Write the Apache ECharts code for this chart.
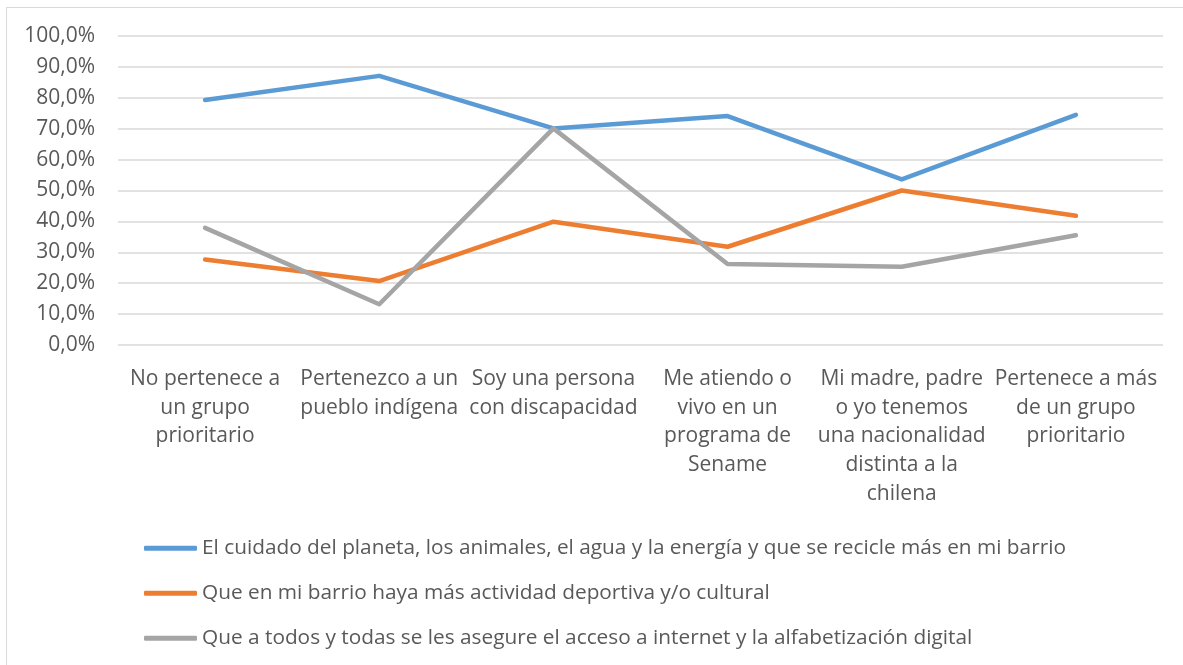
<!DOCTYPE html>
<html>
<head>
<meta charset="utf-8">
<script src="https://cdn.jsdelivr.net/npm/echarts@6/dist/echarts.min.js"></script>
<style>
    html, body { margin: 0; padding: 0; background: #fff; }
    #chart { width: 1183px; height: 665px; }
</style>
</head>
<body>
<div id="chart"></div>
<script>
    // categorias (eje x)
    var categorias = [
        'No pertenece a\nun grupo\nprioritario',
        'Pertenezco a un\npueblo indígena',
        'Soy una persona\ncon discapacidad',
        'Me atiendo o\nvivo en un\nprograma de\nSename',
        'Mi madre, padre\no yo tenemos\nuna nacionalidad\ndistinta a la\nchilena',
        'Pertenece a más\nde un grupo\nprioritario'
    ];

    var nombres = [
        'El cuidado del planeta, los animales, el agua y la energía y que se recicle más en mi barrio',
        'Que en mi barrio haya más actividad deportiva y/o cultural',
        'Que a todos y todas se les asegure el acceso a internet y la alfabetización digital'
    ];

    // valores en %
    var planeta = [79.3, 87.1, 70.1, 74.1, 53.6, 74.5];
    var deporte = [27.7, 20.7, 39.9, 31.8, 50.0, 41.8];
    var internet = [37.9, 13.2, 70.1, 26.2, 25.3, 35.5];

    var colores = ['#5B9BD5', '#ED7D31', '#A5A5A5'];
    var fuente = '"Open Sans", sans-serif';

    var chart = echarts.init(document.getElementById('chart'));

    function serie(nombre, datos, color) {
        return {
            name: nombre,
            type: 'line',
            data: datos,
            showSymbol: false,
            symbol: 'none',
            lineStyle: { color: color, width: 4.5, cap: 'round', join: 'round' },
            itemStyle: { color: color },
            animation: false
        };
    }

    var option = {
        backgroundColor: '#fff',
        color: colores,
        graphic: [{
            type: 'rect',
            shape: { x: 6.5, y: 7.5, width: 1190, height: 680 },
            style: { fill: 'none', stroke: '#D9D9D9', lineWidth: 1 },
            silent: true
        }],
        grid: { left: 118, right: 20, top: 36, bottom: 320, containLabel: false },
        legend: {
            orient: 'vertical',
            left: 139,
            top: 532,
            itemGap: 22.5,
            itemWidth: 53,
            itemHeight: 5,
            icon: 'roundRect',
            textStyle: { color: '#595959', fontSize: 20.8, lineHeight: 22.5, fontFamily: fuente },
            data: nombres
        },
        xAxis: {
            type: 'category',
            data: categorias,
            boundaryGap: true,
            axisLine: { show: false },
            axisTick: { show: false },
            axisLabel: {
                interval: 0,
                margin: 20,
                color: '#595959',
                fontSize: 21,
                lineHeight: 28.6,
                fontFamily: fuente,
                align: 'center'
            }
        },
        yAxis: {
            type: 'value',
            min: 0,
            max: 100,
            interval: 10,
            axisLine: { show: false },
            axisTick: { show: false },
            splitLine: { lineStyle: { color: '#D9D9D9', width: 1.5 } },
            axisLabel: {
                margin: 23,
                color: '#595959',
                fontSize: 21,
                fontFamily: fuente,
                formatter: function (v) { return v.toFixed(1).replace('.', ',') + '%'; }
            }
        },
        series: [
            serie(nombres[0], planeta, colores[0]),
            serie(nombres[1], deporte, colores[1]),
            serie(nombres[2], internet, colores[2])
        ]
    };
    chart.setOption(option);
</script>
</body>
</html>
